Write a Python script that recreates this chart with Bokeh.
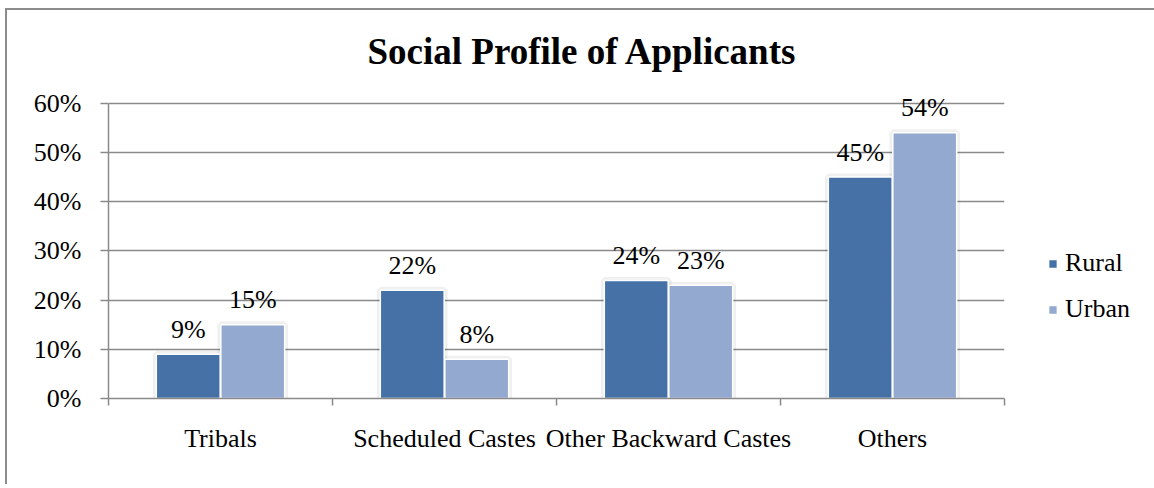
from bokeh.plotting import figure
from bokeh.models import (FactorRange, Range1d, LinearAxis, FixedTicker, LabelSet,
                          NumeralTickFormatter, Legend, LegendItem, Title, ColumnDataSource)
from bokeh.transform import dodge
from bokeh.embed import file_html
from bokeh.resources import INLINE

# ---- data ----
title_text = "Social Profile of Applicants"
categories = ["Tribals", "Scheduled Castes", "Other Backward Castes", "Others"]
rural = [0.09, 0.22, 0.24, 0.45]
urban = [0.15, 0.08, 0.23, 0.54]
series_names = ["Rural", "Urban"]
y_ticks = [0.0, 0.1, 0.2, 0.3, 0.4, 0.5, 0.6]

FONT = "Liberation Serif"
C_RURAL = "#4571a7"
C_URBAN = "#93a9cf"
GRID = "#8a8a8a"
Y_HEADROOM = 0.64   # a little room above the 60% line so the top data label is not clipped

src = ColumnDataSource(dict(
    cat=categories,
    rural=rural,
    urban=urban,
    rural_lbl=[f"{round(v * 100)}%" for v in rural],
    urban_lbl=[f"{round(v * 100)}%" for v in urban],
))

p = figure(x_range=FactorRange(*categories), y_range=Range1d(y_ticks[0], Y_HEADROOM),
           frame_width=896, frame_height=315,
           min_border_left=101, min_border_right=147, min_border_top=73, min_border_bottom=86,
           x_axis_location=None, y_axis_location=None,
           output_backend="svg", toolbar_location=None, title=None)
p.outline_line_color = None
p.background_fill_color = "white"
p.border_fill_color = "white"
p.styles = {"border-left": "2px solid #8c8c8c", "border-top": "2px solid #8c8c8c",
            "margin-left": "5px", "margin-top": "8px"}

# title
p.add_layout(Title(text=title_text, align="left", text_font=FONT, text_font_size="37px",
                   text_font_style="bold", text_color="black", standoff=24, offset=259), "above")

# y axis
yax = LinearAxis(ticker=FixedTicker(ticks=y_ticks), formatter=NumeralTickFormatter(format="0%"),
                 bounds=(y_ticks[0], y_ticks[-1]))
yax.axis_line_color = GRID
yax.axis_line_width = 1.5
yax.major_tick_line_color = GRID
yax.major_tick_line_width = 1.5
yax.major_tick_in = 0
yax.major_tick_out = 8
yax.minor_tick_line_color = None
yax.major_label_text_font = FONT
yax.major_label_text_font_size = "26px"
yax.major_label_text_color = "black"
yax.major_label_standoff = 19
p.add_layout(yax, "left")

# x axis: labels at category centres, tick marks at category edges
# (positions in the factor range's own synthetic coordinates)
centres = [i + 0.5 for i in range(len(categories))]
edges = list(range(len(categories) + 1))
xax = LinearAxis(ticker=FixedTicker(ticks=centres, minor_ticks=edges),
                 major_label_overrides={c: name for c, name in zip(centres, categories)})
xax.axis_line_color = GRID
xax.axis_line_width = 1.5
xax.major_tick_line_color = None
xax.major_tick_in = 0
xax.major_tick_out = 0
xax.minor_tick_line_color = GRID
xax.minor_tick_line_width = 1.5
xax.minor_tick_in = 0
xax.minor_tick_out = 7
xax.major_label_text_font = FONT
xax.major_label_text_font_size = "26px"
xax.major_label_text_color = "black"
xax.major_label_standoff = 18
p.add_layout(xax, "below")

# grid
p.ygrid.ticker = FixedTicker(ticks=y_ticks)
p.ygrid.grid_line_color = GRID
p.ygrid.grid_line_width = 1.5
p.xgrid.grid_line_color = None

W = 0.285
OFF = 0.144
# soft shadows
for col, off in (("rural", -OFF), ("urban", OFF)):
    p.vbar(x=dodge("cat", off, range=p.x_range), top=col, width=W, source=src,
           fill_color=None, line_color="black", line_alpha=0.06, line_width=7)
r1 = p.vbar(x=dodge("cat", -OFF, range=p.x_range), top="rural", width=W, source=src,
            fill_color=C_RURAL, line_color="white", line_width=1.5)
r2 = p.vbar(x=dodge("cat", OFF, range=p.x_range), top="urban", width=W, source=src,
            fill_color=C_URBAN, line_color="white", line_width=1.5)

# data labels
for col, off in (("rural", -OFF), ("urban", OFF)):
    p.add_layout(LabelSet(x=dodge("cat", off, range=p.x_range), y=col, text=col + "_lbl",
                          source=src, text_align="center", text_baseline="middle", y_offset=25,
                          text_font=FONT, text_font_size="26px", text_color="black"))

legend = Legend(items=[LegendItem(label=series_names[0], renderers=[r1]),
                       LegendItem(label=series_names[1], renderers=[r2])],
                location=(43, 74), orientation="vertical")
legend.glyph_width = 11
legend.glyph_height = 11
legend.label_standoff = 7
legend.label_text_font = FONT
legend.label_text_font_size = "26px"
legend.label_text_color = "black"
legend.spacing = 16
legend.padding = 0
legend.margin = 0
legend.border_line_color = None
legend.background_fill_color = None
p.add_layout(legend, "right")

open("out.html", "w").write(file_html(p, INLINE))
